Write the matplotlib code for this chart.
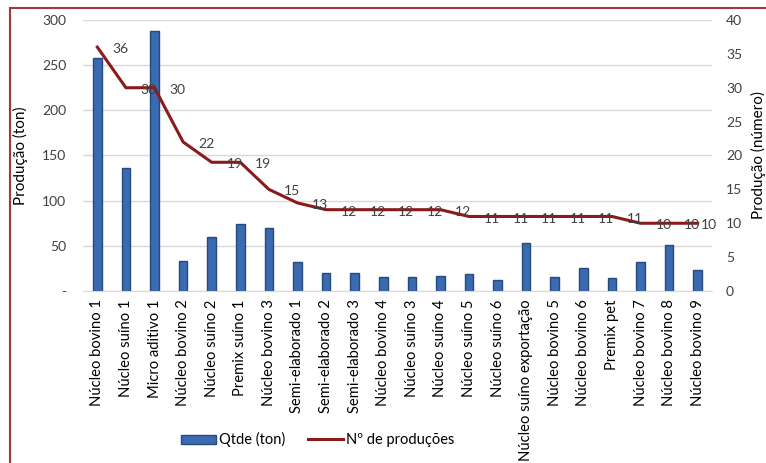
import matplotlib
matplotlib.use("Agg")
import matplotlib.pyplot as plt
from matplotlib.lines import Line2D
from matplotlib.patches import Patch
from matplotlib.ticker import FixedLocator, FuncFormatter

plt.rcParams['font.family'] = ['Lato', 'DejaVu Sans']

categorias = [
    "Núcleo bovino 1", "Núcleo suíno 1", "Micro aditivo 1", "Núcleo bovino 2",
    "Núcleo suíno 2", "Premix suíno 1", "Núcleo bovino 3", "Semi-elaborado 1",
    "Semi-elaborado 2", "Semi-elaborado 3", "Núcleo bovino 4", "Núcleo suíno 3",
    "Núcleo suíno 4", "Núcleo suíno 5", "Núcleo suíno 6", "Núcleo suíno exportação",
    "Núcleo bovino 5", "Núcleo bovino 6", "Premix pet", "Núcleo bovino 7",
    "Núcleo bovino 8", "Núcleo bovino 9",
]
qtde_ton = [258, 136, 288, 33, 60, 74, 70, 32, 20, 20, 16, 16,
            17, 19, 12, 53, 16, 25, 14, 32, 51, 23]
n_producoes = [36, 30, 30, 22, 19, 19, 15, 13, 12, 12, 12, 12,
               12, 11, 11, 11, 11, 11, 11, 10, 10, 10]
ticks_esq = [0, 50, 100, 150, 200, 250, 300]
ticks_dir = [0, 5, 10, 15, 20, 25, 30, 35, 40]

azul = "#3A6AB0"
azul_borda = "#254A80"
vermelho = "#8B1A1A"
texto = "#404040"
fs = 10

fig = plt.figure(figsize=(7.66, 4.63), dpi=100)
ax = fig.add_axes([0.1084, 0.3715, 0.8211, 0.5853])
x = list(range(len(categorias)))

ax.bar(x, qtde_ton, width=0.3, color=azul, edgecolor=azul_borda, linewidth=1.0, zorder=2)
ax.set_xlim(-0.5, len(categorias) - 0.5)
ax.set_ylim(0, 300)
ax.yaxis.set_major_locator(FixedLocator(ticks_esq))
ax.yaxis.set_major_formatter(FuncFormatter(lambda v, p: "-" if v == 0 else f"{int(v)}"))
ax.grid(axis="y", color="#D9D9D9", linewidth=1.0, zorder=0)
ax.set_axisbelow(True)
for s in ["top", "right", "left"]:
    ax.spines[s].set_visible(False)
ax.spines["bottom"].set_color("#D9D9D9")
ax.tick_params(axis="both", length=0, labelsize=fs, labelcolor=texto)
ax.tick_params(axis="y", pad=12)
ax.set_xticks(x)
ax.set_xticklabels(categorias, rotation=90, fontsize=10.6, color="black")
ax.tick_params(axis="x", pad=6)
ax.set_ylabel("Produção (ton)", fontsize=11, color="black", labelpad=10)

ax2 = ax.twinx()
ax2.plot(x, n_producoes, color=vermelho, linewidth=2.2, zorder=3)
ax2.set_ylim(0, 40)
ax2.yaxis.set_major_locator(FixedLocator(ticks_dir))
for s in ["top", "right", "left", "bottom"]:
    ax2.spines[s].set_visible(False)
ax2.tick_params(axis="y", length=0, labelsize=fs, labelcolor=texto, pad=10)
ax2.set_ylabel("Produção (número)", fontsize=11, color="black", labelpad=6)

for i, v in enumerate(n_producoes):
    dx = 16.5 if i < len(n_producoes) - 1 else 8
    ax2.annotate(f"{v}", (i, v), xytext=(dx, -1.5), textcoords="offset points",
                 ha="center", va="center", fontsize=fs, color=texto, zorder=4)

handles = [Patch(facecolor=azul, edgecolor=azul_borda, label="Qtde (ton)"),
           Line2D([0], [0], color=vermelho, linewidth=2.2, label="Nº de produções")]
fig.legend(handles=handles, loc="center", bbox_to_anchor=(0.415, 0.05), ncol=2,
           frameon=False, fontsize=fs + 0.5, handlelength=2.4, handleheight=0.6,
           columnspacing=1.6, handletextpad=0.2)

# moldura
fig.add_artist(Line2D([0.013, 0.013], [0, 0.983], color="#A33A3A", linewidth=1.5,
                      transform=fig.transFigure))
fig.add_artist(Line2D([0.013, 1.0], [0.983, 0.983], color="#A33A3A", linewidth=1.5,
                      transform=fig.transFigure))

fig.savefig("out.png", dpi=100)
